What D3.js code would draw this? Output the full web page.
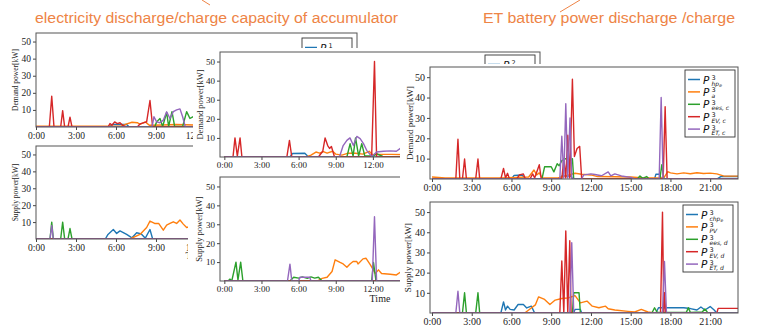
<!DOCTYPE html>
<html>
<head>
<meta charset="utf-8">
<script src="https://cdn.jsdelivr.net/npm/d3@7"></script>
<style>
  body { margin: 0; background: #fff; }
  svg { display: block; }
</style>
</head>
<body>
<svg id="chart" width="757" height="327"></svg>
<script>
// series colours (matplotlib default cycle)
const colors = ["#1f77b4", "#ff7f0e", "#2ca02c", "#d62728", "#9467bd"];
const hourTicks = [0, 3, 6, 9, 12, 15, 18, 21];
const powerTicks = [10, 20, 30, 40, 50];

// ---- microgrid 1, demand  [hour, kW]
const dem1_hp  = [[0,0],[5.5,0],[5.7,1.5],[6.8,1.5],[7,0],[12.5,0]];
const dem1_a   = [[0,0.5],[6.4,0.5],[6.7,1.5],[7.2,2.8],[7.6,2.5],[7.8,1.6],[8.2,3],[8.5,1],[9.5,1.2],[10.5,1.5],[12.5,1]];
const dem1_ees = [[0,0],[8.9,0],[9.05,3],[9.3,5],[9.5,0.3],[9.8,8.5],[9.95,0.3],[10.2,9],[10.4,0.3],[11,0.3],[11.3,9],[11.55,5],[11.8,6],[12.05,4.5],[12.5,5]];
const dem1_ev  = [[0,0],[1,0],[1.18,18],[1.35,0],[1.85,0],[2,9.6],[2.15,0],[2.4,0],[2.55,5.7],[2.7,0],[5.4,0],[5.55,2],[5.7,1],[5.9,3],[6.1,2],[6.3,2.5],[6.5,1],[6.8,0],[7.6,0],[7.8,1.8],[8.3,3],[8.55,15.5],[8.75,0],[12.5,0]];
const dem1_et  = [[0,0],[8.7,0],[8.85,6],[9.05,3],[9.3,2.5],[9.55,4],[9.8,8.9],[10.05,5],[10.3,9],[10.55,10],[10.8,10.6],[11,6],[11.2,0],[12.5,0]];

// ---- microgrid 1, supply
const sup1_chp = [[0,0],[5.2,0],[5.4,2.7],[5.8,5.6],[6.05,3.3],[6.3,4.8],[6.8,2.7],[7.2,0.7],[7.55,3.7],[7.9,3],[8.2,0.5],[8.55,5.6],[8.75,0],[12.5,0]];
const sup1_pv  = [[0,0],[7.05,0],[7.8,2.7],[8.3,6.8],[8.55,10.6],[8.9,9.2],[9.2,9.2],[9.55,5.2],[9.8,8.2],[10.05,9.2],[10.3,10.2],[10.55,9.2],[10.8,11.2],[11.05,8.8],[11.3,6.8],[11.7,7.6],[11.9,6.2],[12.3,5.5],[12.5,5]];
const sup1_ees = [[0,0],[1.05,0],[1.18,10],[1.3,0],[1.85,0],[2,10],[2.15,0],[2.4,0],[2.55,6.2],[2.7,0],[12.5,0]];
const sup1_ev  = [[0,0],[12.5,0]];
const sup1_et  = [[0,0],[1.05,0],[1.18,8],[1.3,0],[12.5,0]];

// ---- microgrid 2, demand
const dem2_hp  = [[0,0],[5.3,0],[5.5,1.8],[6.5,2],[6.8,0],[14.8,0]];
const dem2_a   = [[0,0],[6.6,0],[7,1],[7.4,2.6],[7.7,2],[8,2.8],[8.3,2],[8.75,3],[9,1.5],[9.5,1],[10,2],[10.6,2],[11.2,1.5],[11.7,3],[12,1],[12.5,1.4],[13.5,1.4],[14.8,1.2]];
const dem2_ees = [[0,0],[9.9,0],[10.16,7],[10.4,0.5],[10.6,10],[10.85,0.5],[11.1,7],[11.35,0.5],[12,0.5],[12.3,1.7],[12.8,0.3],[14.8,0]];
const dem2_ev  = [[0,0],[0.7,0],[0.86,10],[1.05,0.5],[1.27,10],[1.42,0],[5.05,0],[5.26,8.7],[5.45,0],[7.6,0],[7.95,3],[8.14,10],[8.35,6],[8.5,4.5],[8.65,5.5],[8.9,0],[11.9,0],[12.13,50],[12.3,0],[14.8,0]];
const dem2_et  = [[0,0],[9.3,0],[9.6,6],[9.9,8.7],[10.15,10],[10.43,6],[10.7,10.8],[10.97,9.6],[11.24,7],[11.5,3.5],[11.9,0.3],[12.3,2.6],[12.85,3],[13.4,3.2],[13.9,3],[14.3,4.9],[14.6,0.5],[14.8,0.5]];

// ---- microgrid 2, supply
const sup2_chp = [[0,0],[14.8,0]];
const sup2_pv  = [[0,0],[7.5,0],[7.9,1.4],[8.3,2],[8.7,5],[8.95,11.2],[9.35,9.8],[9.6,9],[9.9,7.3],[10.15,9],[10.4,10.3],[10.7,10.3],[10.8,9],[11.2,11.7],[11.45,12],[11.8,8.5],[12.2,4],[12.45,5.9],[12.7,4],[13.4,3.6],[13.9,3.2],[14.3,5],[14.5,3],[14.8,2.5]];
const sup2_ees = [[0,0],[0.3,0],[0.46,1],[0.6,0],[0.94,10],[1.1,0.5],[1.32,10],[1.5,0],[5.3,0],[5.6,2],[6,1.5],[6.3,2.2],[6.7,1.4],[7,2.2],[7.3,1.5],[7.6,2],[7.9,0],[11.9,0],[12.05,9.8],[12.25,0],[14.8,0]];
const sup2_ev  = [[0,0],[14.8,0]];
const sup2_et  = [[0,0],[5.1,0],[5.3,8.9],[5.45,0],[6,0],[6.1,2],[6.9,2],[7,0],[11.95,0],[12.13,34],[12.3,0],[14.8,0]];

// ---- microgrid 3, demand
const dem3_hp  = [[0,0],[6,0],[6.2,1.8],[6.8,2],[7,0.3],[9.7,0],[9.8,1.5],[10.5,1.5],[10.6,0],[16.8,0],[16.9,2.3],[17.2,2.3],[17.3,0],[21.5,0],[21.8,1.2],[23.1,1.2]];
const dem3_a   = [[0,1],[1,0.5],[5,0.5],[7.3,1],[7.7,4.4],[7.9,2],[8.1,3],[8.3,0.5],[9.5,0.5],[10.8,2.8],[11.3,2.3],[12,2],[12.5,1.2],[15,1],[16,0.5],[17.5,0.5],[17.8,3.6],[18,3],[18.5,2.5],[19,3],[19.5,2.6],[20,3.1],[20.5,2.7],[21,2.9],[21.5,2.5],[22,1.5],[23.1,1.4]];
const dem3_ees = [[0,0],[8.3,0],[8.5,6],[9,6],[9.2,3.5],[9.45,7.5],[9.6,6.5],[9.8,9],[10.1,10],[10.4,9],[10.6,10],[10.7,0],[15.5,0],[15.7,1.5],[15.9,0.3],[16.2,1.2],[16.4,0],[17.2,0],[17.35,7],[17.5,0],[23.1,0]];
const dem3_ev  = [[0,0],[1.8,0],[1.96,19.5],[2.1,0],[2.3,0],[2.46,9.8],[2.6,0],[3.3,0],[3.47,9.8],[3.6,0],[5.2,0],[5.4,5.2],[5.55,0.5],[5.7,2.8],[5.85,0],[6.4,0],[6.6,2],[6.9,2.5],[7.05,0],[7.4,0],[7.6,2.5],[7.75,0.5],[8.1,7],[8.25,0],[9.8,0],[9.95,10],[10.1,0.5],[10.25,21.5],[10.4,0.5],[10.6,49],[10.75,11],[10.95,15],[11.15,16],[11.3,0],[17.45,0],[17.6,35.5],[17.75,0],[23.1,0]];
const dem3_et  = [[0,0],[9.65,0],[9.8,21],[9.95,0.5],[10.1,37],[10.25,0.5],[10.42,30],[10.55,0.5],[10.7,0],[11.3,0],[11.45,2],[12,2.5],[12.3,2.2],[12.8,1.6],[13.3,3.5],[13.5,1.5],[13.8,2.5],[14.3,1.5],[15,0.8],[15.3,0],[17.15,0],[17.3,40],[17.45,0],[23.1,0]];

// ---- microgrid 3, supply
const sup3_chp = [[0,0],[5.2,0],[5.4,5.5],[5.55,1.5],[5.7,3.4],[5.9,1.8],[6.2,1.5],[6.5,4.2],[6.9,4.2],[7.15,2.5],[7.5,3.4],[7.75,0],[10.7,0],[10.8,1.8],[11.2,1.8],[11.3,0],[16.9,0],[17.1,2.6],[18,2.6],[19,2.6],[19.5,2.2],[20,1.5],[20.3,3],[20.6,1.5],[21,3.2],[21.3,1.5],[21.5,0],[23.1,0]];
const sup3_pv  = [[0,0],[7,0],[7.3,1.5],[7.8,4],[8.05,8],[8.5,6.7],[8.9,4.2],[9.3,6.4],[9.8,7.2],[10.3,7.5],[10.8,8.6],[11.2,5],[11.7,5.9],[12.1,3.4],[12.6,2.6],[13.1,3.4],[13.3,2.1],[13.8,1.5],[14.8,0.8],[15.3,0.5],[15.8,1.8],[16.3,0.5],[16.8,0],[23.1,0]];
const sup3_ees = [[0,0],[2.3,0],[2.46,10],[2.6,0],[3.3,0],[3.47,10],[3.6,0],[10.6,0],[10.7,10],[11.1,10],[11.2,0],[16.6,0],[16.8,2.6],[17,0.3],[19.2,0.3],[19.35,2.6],[19.5,0.3],[20.4,0.5],[20.6,2],[20.8,0.3],[23.1,0]];
const sup3_ev  = [[0,0],[9.65,0],[9.8,25.8],[9.95,0],[10.1,40.6],[10.25,0],[10.4,35.8],[10.5,0],[17.25,0],[17.4,50],[17.5,0],[17.55,10],[17.65,0],[21.5,0],[21.6,2.3],[23.1,2.3]];
const sup3_et  = [[0,0],[1.8,0],[1.96,10.8],[2.1,0],[10.4,0],[10.55,34.8],[10.7,0],[17.4,0],[17.55,25.5],[17.7,0],[23.1,0]];

// legend entries: [superscript, subscript, sub-subscript]
const demandLabels = n => [[n,"hp","e"],[n,"a",""],[n,"ees, c",""],[n,"EV, c",""],[n,"ET, c",""]];
const supplyLabels = n => [[n,"chp","e"],[n,"PV",""],[n,"ees, d",""],[n,"EV, d",""],[n,"ET, d",""]];

const svg = d3.select("#chart");
svg.append("rect").attr("width", 757).attr("height", 327).attr("fill", "#fff");

const serif = "Liberation Serif, Times New Roman, serif";
let clipId = 0;

function drawLegend(g, box, labels) {
  const [x0, y0, w, h] = box;
  g.append("rect").attr("x", x0).attr("y", y0).attr("width", w).attr("height", h)
    .attr("fill", "#fff").attr("stroke", "#333").attr("stroke-width", 0.9);
  labels.forEach((lab, i) => {
    const cy = y0 + 9.5 + i * 12.4;
    g.append("line").attr("x1", x0 + 3).attr("x2", x0 + 15).attr("y1", cy).attr("y2", cy)
      .attr("stroke", colors[i]).attr("stroke-width", 1.5);
    const tx = x0 + 18;
    // one text per entry: P, superscript, then subscript placed back under the superscript
    const t = g.append("text").attr("x", tx).attr("y", cy + 4)
      .attr("font-family", "DejaVu Sans").attr("fill", "#111");
    t.append("tspan").attr("font-style", "italic").attr("font-size", 10.5).text("P");
    t.append("tspan").attr("x", tx + 8.5).attr("dy", -3.5).attr("font-size", 6.5).text(lab[0]);
    t.append("tspan").attr("x", tx + 8.5).attr("dy", 5.5).attr("font-style", "italic").attr("font-size", 6).text(lab[1]);
    if (lab[2]) t.append("tspan").attr("dy", 1.2).attr("font-style", "italic").attr("font-size", 4.5).text(lab[2]);
  });
}

function panel(p) {
  const [ix0, iy0, ix1, iy1] = p.img;
  const [l, t, r, b] = p.frame;
  const cid = "c" + (clipId++);
  const pid = "c" + (clipId++);
  const defs = svg.append("defs");
  defs.append("clipPath").attr("id", cid).append("rect")
    .attr("x", ix0).attr("y", iy0).attr("width", ix1 - ix0).attr("height", iy1 - iy0);
  defs.append("clipPath").attr("id", pid).append("rect")
    .attr("x", l).attr("y", t).attr("width", r - l).attr("height", b - t);

  const g = svg.append("g").attr("clip-path", `url(#${cid})`);
  g.append("rect").attr("x", ix0).attr("y", iy0).attr("width", ix1 - ix0).attr("height", iy1 - iy0).attr("fill", "#fff");

  const x = d3.scaleLinear().domain(p.xDomain).range([l, r]);
  const y = d3.scaleLinear().domain([0, 55]).range([b, t]);
  const line = d3.line().x(d => x(d[0])).y(d => y(d[1]));

  const plot = g.append("g").attr("clip-path", `url(#${pid})`);
  p.series.forEach((s, i) => {
    plot.append("path").attr("d", line(s)).attr("fill", "none")
      .attr("stroke", colors[i]).attr("stroke-width", 1.4).attr("stroke-linejoin", "round");
  });

  // only the ticks that are not hidden under the next picture
  const xa = g.append("g").attr("transform", `translate(0,${b})`)
    .call(d3.axisBottom(x).tickValues(hourTicks.filter(h => h <= p.lastTick))
      .tickFormat(h => h + ":00").tickSize(3).tickPadding(2));
  const ya = g.append("g").attr("transform", `translate(${l},0)`)
    .call(d3.axisLeft(y).tickValues(powerTicks).tickSize(3).tickPadding(2));
  [xa, ya].forEach(a => {
    a.select(".domain").remove();
    a.attr("font-family", serif).attr("font-size", p.fs);
    a.selectAll("line").attr("stroke", "#444");
    a.selectAll("text").attr("fill", "#222");
  });

  g.append("rect").attr("x", l).attr("y", t).attr("width", r - l).attr("height", b - t)
    .attr("fill", "none").attr("stroke", "#555").attr("stroke-width", 1);

  g.append("text").attr("transform", `translate(${p.ylx},${(t + b) / 2}) rotate(-90)`)
    .attr("text-anchor", "middle").attr("font-family", serif).attr("font-size", p.yls)
    .attr("fill", "#222").text(p.ylabel);
  if (p.timeY) {
    g.append("text").attr("x", (l + r) / 2).attr("y", p.timeY).attr("text-anchor", "middle")
      .attr("font-family", serif).attr("font-size", p.fs + 1).attr("fill", "#222").text("Time");
  }

  drawLegend(g, p.legend, p.labels);
}

panel({ img: [0, 28, 360, 140], frame: [36, 33, 357, 127], xDomain: [0, 24.08], lastTick: 12,
  series: [dem1_hp, dem1_a, dem1_ees, dem1_ev, dem1_et], fs: 9.5,
  ylabel: "Demand power[kW]", ylx: 18, yls: 7.5,
  legend: [302, 38, 50, 66], labels: demandLabels("1").slice(0, 1) });
panel({ img: [0, 140, 360, 327], frame: [36, 146, 357, 239], xDomain: [0, 24.08], lastTick: 12,
  series: [sup1_chp, sup1_pv, sup1_ees, sup1_ev, sup1_et], fs: 9.5,
  ylabel: "Supply power[kW]", ylx: 18, yls: 7.5, timeY: 259,
  legend: [302, 151, 50, 66], labels: [] });
panel({ img: [193, 48, 548, 168], frame: [220, 52, 540, 157], xDomain: [-0.35, 25.5], lastTick: 12,
  series: [dem2_hp, dem2_a, dem2_ees, dem2_ev, dem2_et], fs: 9,
  ylabel: "Demand power[kW]", ylx: 203, yls: 8.5,
  legend: [485, 55, 50, 66], labels: demandLabels("2").slice(0, 1) });
panel({ img: [188, 168, 548, 327], frame: [220, 177, 540, 281], xDomain: [-0.35, 25.5], lastTick: 12,
  series: [sup2_chp, sup2_pv, sup2_ees, sup2_ev, sup2_et], fs: 9,
  ylabel: "Supply power[kW]", ylx: 202, yls: 8.5, timeY: 302,
  legend: [485, 180, 50, 66], labels: [] });
panel({ img: [400, 64, 757, 192], frame: [430, 67, 738, 179], xDomain: [-0.15, 23.1], lastTick: 21,
  series: [dem3_hp, dem3_a, dem3_ees, dem3_ev, dem3_et], fs: 10,
  ylabel: "Demand power[kW]", ylx: 413, yls: 9,
  legend: [685, 70, 50, 67], labels: demandLabels("3") });
panel({ img: [400, 192, 757, 327], frame: [430, 202, 738, 313], xDomain: [-0.15, 23.1], lastTick: 21,
  series: [sup3_chp, sup3_pv, sup3_ees, sup3_ev, sup3_et], fs: 10,
  ylabel: "Supply power[kW]", ylx: 411, yls: 9, timeY: 334,
  legend: [683, 205, 50, 67], labels: supplyLabels("3") });

// orange annotations on top
const note = "#ee8446";
svg.append("line").attr("x1", 202).attr("y1", 0).attr("x2", 210).attr("y2", 5).attr("stroke", note).attr("stroke-width", 1);
svg.append("line").attr("x1", 560).attr("y1", 12).attr("x2", 580).attr("y2", 0).attr("stroke", note).attr("stroke-width", 1);
svg.append("text").attr("x", 35).attr("y", 23).attr("textLength", 363).attr("lengthAdjust", "spacingAndGlyphs")
  .attr("font-family", "Liberation Sans, Arial, sans-serif").attr("font-size", 15.5).attr("fill", note)
  .text("electricity discharge/charge capacity of accumulator");
svg.append("text").attr("x", 483).attr("y", 23).attr("textLength", 252).attr("lengthAdjust", "spacingAndGlyphs")
  .attr("font-family", "Liberation Sans, Arial, sans-serif").attr("font-size", 15.5).attr("fill", note)
  .text("ET battery power discharge /charge");
</script>
</body>
</html>
